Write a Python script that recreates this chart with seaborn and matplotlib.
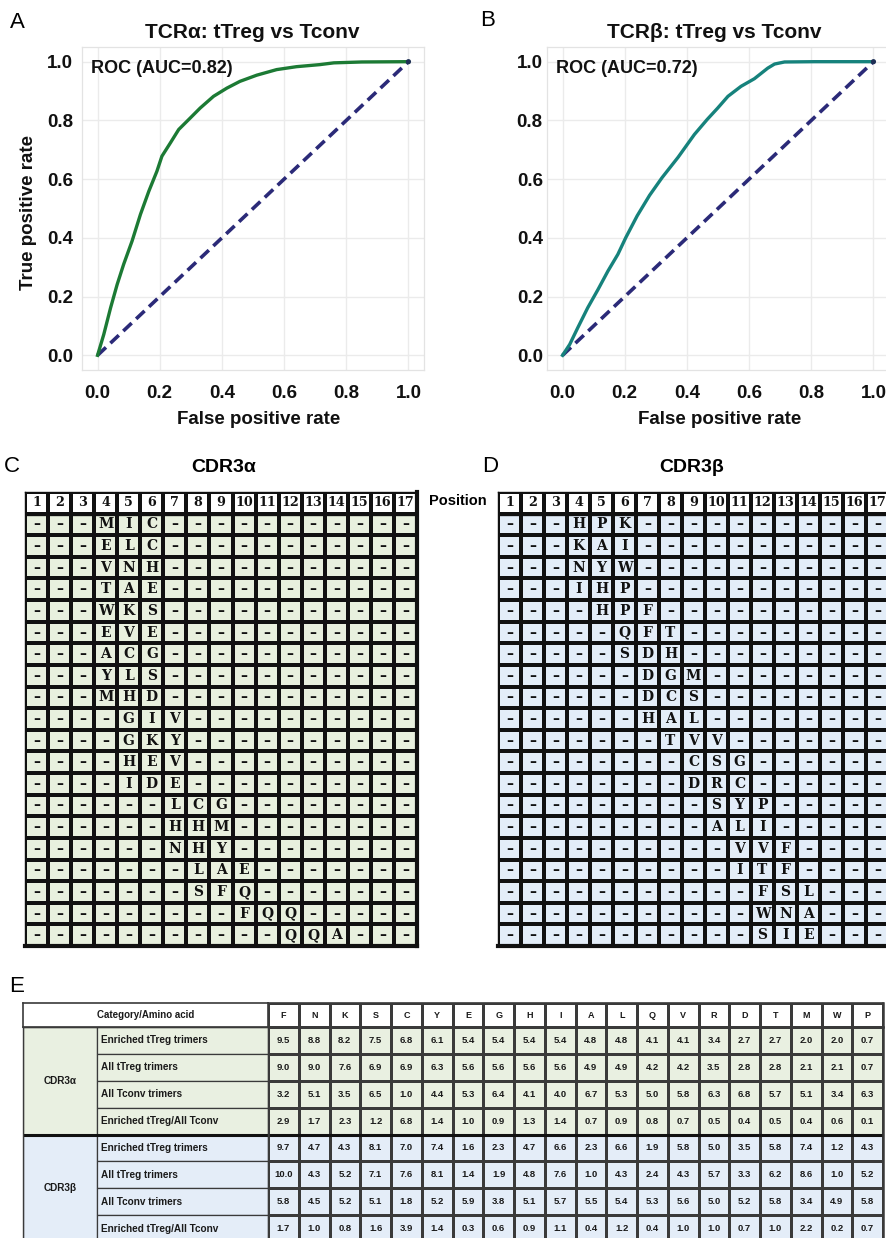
import numpy as np
import matplotlib
matplotlib.use("Agg")
import matplotlib.pyplot as plt
from matplotlib.colors import ListedColormap
from matplotlib.patches import Rectangle
import seaborn as sns

plt.rcParams["font.family"] = ["Liberation Sans", "DejaVu Sans"]

W, H = 886, 1238

# ---------------- ROC curves ----------------
tcra_fpr = [0.0, 0.020, 0.042, 0.063, 0.084, 0.111, 0.138, 0.165, 0.191, 0.207, 0.234,
            0.261, 0.298, 0.330, 0.373, 0.416, 0.458, 0.512, 0.576, 0.640, 0.715, 0.760,
            0.850, 1.0]
tcra_tpr = [0.0, 0.071, 0.162, 0.241, 0.310, 0.389, 0.480, 0.559, 0.627, 0.678, 0.723,
            0.769, 0.808, 0.842, 0.882, 0.910, 0.933, 0.954, 0.973, 0.983, 0.990, 0.996,
            0.999, 1.0]
tcrb_fpr = [0.0, 0.023, 0.049, 0.081, 0.114, 0.146, 0.178, 0.203, 0.240, 0.280, 0.320,
            0.372, 0.424, 0.465, 0.499, 0.532, 0.574, 0.617, 0.660, 0.682, 0.714, 0.810,
            1.0]
tcrb_tpr = [0.0, 0.037, 0.094, 0.162, 0.224, 0.287, 0.344, 0.400, 0.475, 0.545, 0.605,
            0.675, 0.752, 0.803, 0.842, 0.882, 0.916, 0.942, 0.978, 0.992, 0.999, 1.0,
            1.0]
chance = [0.0, 1.0]
tcra_auc = 0.82
tcrb_auc = 0.72
roc_ticks = [0.0, 0.2, 0.4, 0.6, 0.8, 1.0]

# ---------------- enriched trimers by CDR3 position ----------------
positions = list(range(1, 18))
cdr3a_trimers = ["MIC", "ELC", "VNH", "TAE", "WKS", "EVE", "ACG", "YLS", "MHD", "GIV",
                 "GKY", "HEV", "IDE", "LCG", "HHM", "NHY", "LAE", "SFQ", "FQQ", "QQA"]
cdr3a_start = [4, 4, 4, 4, 4, 4, 4, 4, 4, 5, 5, 5, 5, 7, 7, 7, 8, 8, 10, 12]
cdr3b_trimers = ["HPK", "KAI", "NYW", "IHP", "HPF", "QFT", "SDH", "DGM", "DCS", "HAL",
                 "TVV", "CSG", "DRC", "SYP", "ALI", "VVF", "ITF", "FSL", "WNA", "SIE"]
cdr3b_start = [4, 4, 4, 4, 5, 6, 6, 7, 7, 7, 8, 9, 9, 10, 10, 11, 11, 12, 12, 12]

# ---------------- amino-acid composition table ----------------
amino_acids = ["F", "N", "K", "S", "C", "Y", "E", "G", "H", "I",
               "A", "L", "Q", "V", "R", "D", "T", "M", "W", "P"]
row_labels = ["Enriched tTreg trimers", "All tTreg trimers", "All Tconv trimers",
              "Enriched tTreg/All Tconv"]
groups = ["CDR3\u03b1", "CDR3\u03b2"]
a_enriched = [9.5, 8.8, 8.2, 7.5, 6.8, 6.1, 5.4, 5.4, 5.4, 5.4, 4.8, 4.8, 4.1, 4.1, 3.4, 2.7, 2.7, 2.0, 2.0, 0.7]
a_all_treg = [9.0, 9.0, 7.6, 6.9, 6.9, 6.3, 5.6, 5.6, 5.6, 5.6, 4.9, 4.9, 4.2, 4.2, 3.5, 2.8, 2.8, 2.1, 2.1, 0.7]
a_all_tconv = [3.2, 5.1, 3.5, 6.5, 1.0, 4.4, 5.3, 6.4, 4.1, 4.0, 6.7, 5.3, 5.0, 5.8, 6.3, 6.8, 5.7, 5.1, 3.4, 6.3]
a_ratio = [2.9, 1.7, 2.3, 1.2, 6.8, 1.4, 1.0, 0.9, 1.3, 1.4, 0.7, 0.9, 0.8, 0.7, 0.5, 0.4, 0.5, 0.4, 0.6, 0.1]
b_enriched = [9.7, 4.7, 4.3, 8.1, 7.0, 7.4, 1.6, 2.3, 4.7, 6.6, 2.3, 6.6, 1.9, 5.8, 5.0, 3.5, 5.8, 7.4, 1.2, 4.3]
b_all_treg = [10.0, 4.3, 5.2, 7.1, 7.6, 8.1, 1.4, 1.9, 4.8, 7.6, 1.0, 4.3, 2.4, 4.3, 5.7, 3.3, 6.2, 8.6, 1.0, 5.2]
b_all_tconv = [5.8, 4.5, 5.2, 5.1, 1.8, 5.2, 5.9, 3.8, 5.1, 5.7, 5.5, 5.4, 5.3, 5.6, 5.0, 5.2, 5.8, 3.4, 4.9, 5.8]
b_ratio = [1.7, 1.0, 0.8, 1.6, 3.9, 1.4, 0.3, 0.6, 0.9, 1.1, 0.4, 1.2, 0.4, 1.0, 1.0, 0.7, 1.0, 2.2, 0.2, 0.7]

# colours
GREEN_LINE = "#1C7A34"
TEAL_LINE = "#16827C"
NAVY = "#2B2A78"
GREEN_FILL = "#E8F0DE"
BLUE_FILL = "#E3EDF8"
TAB_GREEN = "#E9F0E1"
TAB_BLUE = "#E4EDF8"


def px_box(left, top, right, bottom):
    return [left / W, 1 - bottom / H, (right - left) / W, (bottom - top) / H]


def fig_text(x, y, s, **kw):
    fig.text(x / W, 1 - y / H, s, **kw)


fig = plt.figure(figsize=(W / 100, H / 100), dpi=100)
fig.patch.set_facecolor("white")


# ---------------- panels A and B ----------------
def roc_panel(box, fpr, tpr, color, auc, title, title_x, ylab_pad, with_ylabel,
              xlabel_x):
    ax = fig.add_axes(px_box(*box))
    ax.set_facecolor("white")
    sns.lineplot(x=chance, y=chance, ax=ax, color=NAVY, linewidth=2.6,
                 linestyle=(0, (3.2, 1.7)), sort=False, estimator=None, zorder=3)
    sns.lineplot(x=fpr, y=tpr, ax=ax, color=color, linewidth=2.4,
                 sort=False, estimator=None, zorder=4)
    sns.scatterplot(x=[fpr[-1]], y=[tpr[-1]], ax=ax, color="#1F2F55", s=14,
                    edgecolor="none", zorder=5)
    ax.set_xlim(-0.05, 1.05)
    ax.set_ylim(-0.05, 1.05)
    ax.set_xticks(roc_ticks)
    ax.set_yticks(roc_ticks)
    ax.set_xticklabels([f"{t:.1f}" for t in roc_ticks])
    ax.set_yticklabels([f"{t:.1f}" for t in roc_ticks])
    ax.tick_params(axis="x", length=0, pad=11, labelsize=13.5, labelcolor="#111111")
    ax.tick_params(axis="y", length=0, pad=ylab_pad, labelsize=13.5, labelcolor="#111111")
    for lab in ax.get_xticklabels() + ax.get_yticklabels():
        lab.set_fontweight("bold")
    ax.grid(True, color="#EBEBEB", linewidth=1.0)
    ax.set_axisbelow(True)
    for sp in ax.spines.values():
        sp.set_color("#E3E3E3")
        sp.set_linewidth(0.9)
    ax.set_xlabel("")
    ax.set_ylabel("")
    ax.text(-0.02, 0.976, f"ROC (AUC={auc:.2f})", fontsize=13, fontweight="bold",
            ha="left", va="center", color="#111111", zorder=6)
    fig_text(title_x, 32, title, fontsize=15, fontweight="bold", ha="center",
             va="center", color="#111111")
    fig_text(xlabel_x, 420, "False positive rate", fontsize=13.5, fontweight="bold",
             ha="center", va="center", color="#111111")
    if with_ylabel:
        fig_text(29, 212, "True positive rate", fontsize=13.5, fontweight="bold",
                 ha="center", va="center", rotation=90, color="#111111")
    return ax


roc_panel((82, 47, 424, 370), tcra_fpr, tcra_tpr, GREEN_LINE, tcra_auc,
          "TCR\u03b1: tTreg vs Tconv", 252, 6.5, True, 259)
roc_panel((547, 47, 889, 370), tcrb_fpr, tcrb_tpr, TEAL_LINE, tcrb_auc,
          "TCR\u03b2: tTreg vs Tconv", 714, 3.0, False, 720)

fig_text(17, 22, "A", fontsize=16, ha="center", va="center")
fig_text(488, 21, "B", fontsize=16, ha="center", va="center")


# ---------------- panels C and D ----------------
def trimer_labels(trimers, starts):
    labels = np.full((len(trimers) + 1, len(positions)), "\u2013", dtype=object)
    labels[0] = [str(p) for p in positions]
    for i, (tri, s) in enumerate(zip(trimers, starts)):
        for k, ch in enumerate(tri):
            labels[i + 1, s - 1 + k] = ch
    return labels


def trimer_panel(box, trimers, starts, fill):
    ax = fig.add_axes(px_box(*box))
    labels = trimer_labels(trimers, starts)
    shade = np.zeros(labels.shape)
    shade[0] = 1
    sns.heatmap(shade, ax=ax, cmap=ListedColormap([fill, "white"]), vmin=0, vmax=1,
                annot=labels, fmt="", cbar=False, linewidths=1.5, linecolor="#111111",
                xticklabels=False, yticklabels=False,
                annot_kws=dict(fontfamily="DejaVu Serif", fontweight="bold",
                               fontsize=10, color="#111111"))
    # header digits a touch smaller so two-digit positions fit their cells
    for t in ax.texts:
        if t.get_text().isdigit():
            t.set_fontsize(9.2)
    for name, sp in ax.spines.items():
        sp.set_visible(True)
        sp.set_color("#111111")
        sp.set_linewidth(3.0 if name in ("right", "bottom") else 1.0)
    ax.axhline(1, color="#111111", linewidth=2.4)
    return ax


trimer_panel((25, 492, 417, 946), cdr3a_trimers, cdr3a_start, GREEN_FILL)
trimer_panel((498, 492, 889, 946), cdr3b_trimers, cdr3b_start, BLUE_FILL)

fig_text(12, 467, "C", fontsize=16, ha="center", va="center")
fig_text(490, 467, "D", fontsize=16, ha="center", va="center")
fig_text(224, 467, "CDR3\u03b1", fontsize=14, fontweight="bold", ha="center", va="center")
fig_text(692, 467, "CDR3\u03b2", fontsize=14, fontweight="bold", ha="center", va="center")
fig_text(458, 501, "Position", fontsize=10.5, fontweight="bold", ha="center", va="center")


# ---------------- panel E ----------------
fig_text(17, 987, "E", fontsize=16, ha="center", va="center")

values = np.array([a_enriched, a_all_treg, a_all_tconv, a_ratio,
                   b_enriched, b_all_treg, b_all_tconv, b_ratio])
group_id = np.repeat([0, 1], 4)[:, None] * np.ones((1, len(amino_acids)))
LINE = "#3A3A3A"
tab_font = dict(fontfamily="Liberation Sans", fontweight="bold", color="#1A1A1A")

# header: amino acids
axh = fig.add_axes(px_box(268, 1003, 883, 1027))
sns.heatmap(np.zeros((1, len(amino_acids))), ax=axh, cmap=ListedColormap(["white"]),
            annot=np.array([amino_acids], dtype=object), fmt="", cbar=False,
            linewidths=0.9, linecolor=LINE, xticklabels=False, yticklabels=False,
            annot_kws=dict(fontsize=6.5, **tab_font))
for name, sp in axh.spines.items():
    sp.set_visible(True)
    sp.set_color(LINE)
    sp.set_linewidth(1.8 if name == "right" else 1.2)

# header: category cell
axhl = fig.add_axes(px_box(23, 1003, 268, 1027))
axhl.set_xlim(0, 1)
axhl.set_ylim(0, 1)
axhl.set_xticks([])
axhl.set_yticks([])
axhl.text(0.5, 0.5, "Category/Amino acid", ha="center", va="center", fontsize=7, **tab_font)
for name, sp in axhl.spines.items():
    sp.set_color(LINE)
    sp.set_linewidth(1.2)

# values
axv = fig.add_axes(px_box(268, 1027, 883, 1242))
sns.heatmap(group_id, ax=axv, cmap=ListedColormap([TAB_GREEN, TAB_BLUE]), vmin=0, vmax=1,
            annot=values, fmt=".1f", cbar=False, linewidths=0.9, linecolor=LINE,
            xticklabels=False, yticklabels=False,
            annot_kws=dict(fontsize=6.8, **tab_font))
axv.axhline(4, color="#111111", linewidth=2.2)
for name, sp in axv.spines.items():
    sp.set_visible(True)
    sp.set_color(LINE)
    sp.set_linewidth(1.8 if name in ("right", "left") else 1.0)

# row labels and group cells
axl = fig.add_axes(px_box(23, 1027, 268, 1242))
axl.set_xlim(0, 245)
axl.set_ylim(len(values), 0)
axl.set_xticks([])
axl.set_yticks([])
GROUP_W = 74
for g, (gname, fill) in enumerate(zip(groups, [TAB_GREEN, TAB_BLUE])):
    axl.add_patch(Rectangle((0, 4 * g), GROUP_W, 4, facecolor=fill, edgecolor=LINE,
                            linewidth=0.9))
    axl.text(GROUP_W / 2, 4 * g + 2, gname, ha="center", va="center", fontsize=7.2,
             **tab_font)
    for r, lab in enumerate(row_labels):
        y = 4 * g + r
        axl.add_patch(Rectangle((GROUP_W, y), 245 - GROUP_W, 1, facecolor=fill,
                                edgecolor=LINE, linewidth=0.9))
        axl.text(GROUP_W + 4, y + 0.5, lab, ha="left", va="center", fontsize=7.2,
                 **tab_font)
axl.axhline(4, color="#111111", linewidth=2.2)
for name, sp in axl.spines.items():
    sp.set_color(LINE)
    sp.set_linewidth(1.0)

fig.savefig("out.png", dpi=100, facecolor="white")
